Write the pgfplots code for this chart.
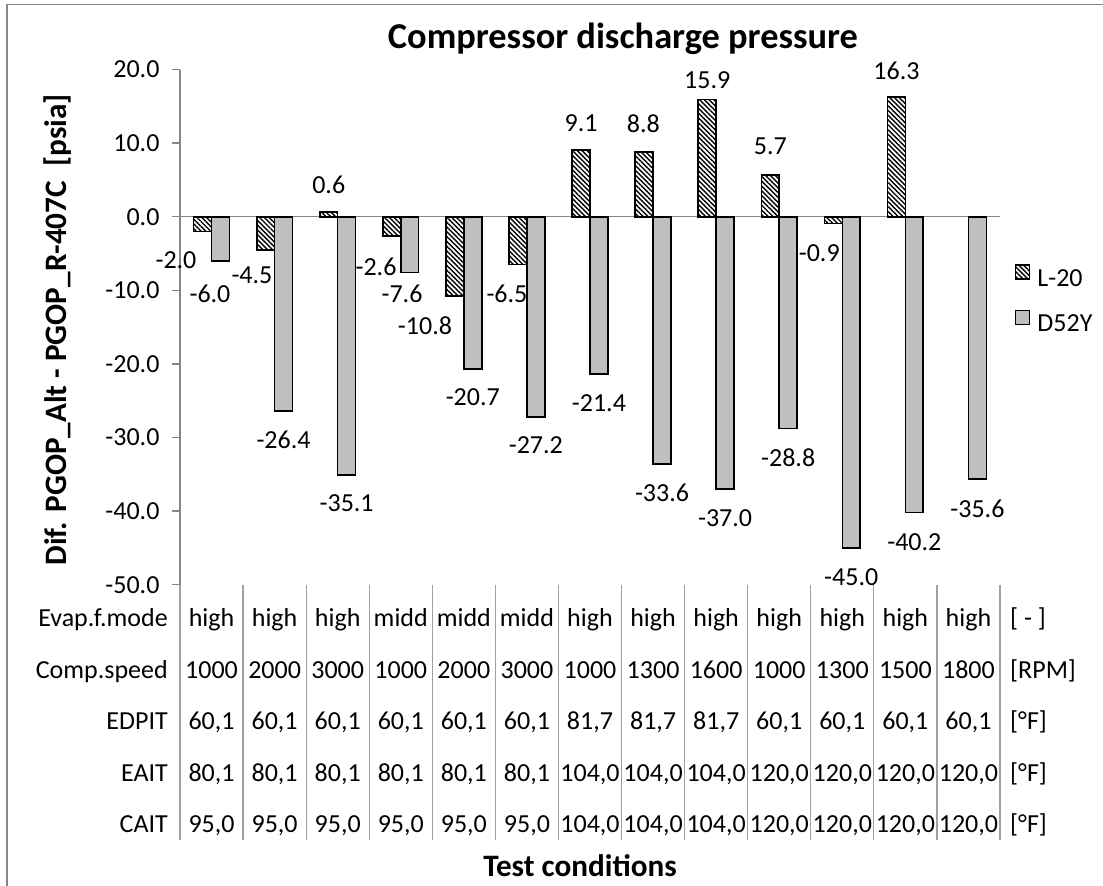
\documentclass[border=0pt]{standalone}
\usepackage{pgfplots}
\pgfplotsset{compat=1.18}
\usepackage{pgfplotstable}
\usetikzlibrary{patterns.meta}
\usepackage{fontspec}
\setmainfont{Carlito}
\definecolor{axisgray}{HTML}{868686}
\definecolor{divgray}{HTML}{A0A0A0}
\definecolor{bargray}{HTML}{BFBFBF}
\newcommand\fs{\fontsize{26}{31.2}\selectfont}
\newcommand\fsax{\fontsize{31.2}{37}\selectfont\bfseries}
\newcommand\fsti{\fontsize{36.4}{43}\selectfont\bfseries}
\pgfplotsset{sqlegend/.style={legend image code/.code={\draw[##1, line width=1.2pt] (0pt,-0.5pt) rectangle (14pt,13.5pt);}}}

% x = category, y = value, dx/dy = label offset (pt) from bar end
\pgfplotstableread{
x y dx dy
0 -2.0 -26.6 -28.6
1 -4.5 -13.7 -25.2
2 0.6 0 27.3
3 -2.6 -15.8 -31.2
4 -10.8 -29.9 -29.8
5 -6.5 -11 -29.5
6 9.1 0 26.7
7 8.8 -0.8 28.6
8 15.9 0 19.7
9 5.7 0 28
10 -0.9 -14.1 -29.4
11 16.3 0 26.2
}\lTwenty

\pgfplotstableread{
x y dx dy
0 -6.0 -10.5 -33
1 -26.4 0 -29
2 -35.1 0 -28.3
3 -7.6 -7.7 -21.4
4 -20.7 0 -28.2
5 -27.2 0 -28.1
6 -21.4 0 -28.5
7 -33.6 0 -29.3
8 -37.0 0 -29.3
9 -28.8 0 -28.6
10 -45.0 0 -28.8
11 -40.2 0 -29.1
12 -35.6 0 -29.6
}\dFiftyTwo

\begin{document}
\begin{tikzpicture}[x=1pt,y=1pt]
\path[use as bounding box] (0,0) rectangle (1103,-886);
\draw[axisgray, line width=1.3pt] (7,-886) -- (7,-4.5) -- (1103,-4.5);
\begin{axis}[
  at={(180pt,-584.7pt)}, anchor=south west,
  scale only axis, width=820pt, height=515.2pt,
  xmin=-0.5, xmax=12.5, ymin=-50, ymax=20,
  clip=false,
  axis x line=middle, axis y line=left,
  axis line style={-, draw=axisgray, line width=1.3pt},
  every inner x axis line/.append style={-},
  every outer y axis line/.append style={-},
  xtick=\empty,
  ytick={-50,-40,...,20},
  tick align=outside, major tick length=8pt,
  ytick style={draw=axisgray, line width=1.3pt},
  yticklabel style={font=\fs, anchor=east, xshift=-9pt,
    /pgf/number format/.cd, fixed, fixed zerofill, precision=1, assume math mode=true},
  ybar=0pt, bar width=17.9pt,
  title={Compressor discharge pressure},
  title style={font=\fsti, at={(axis description cs:0.5402,1.0282)}, anchor=base},
  xlabel={Test conditions},
  xlabel style={font=\fsax, at={(axis description cs:0.4878,-0.5673)}, anchor=base},
  ylabel={Dif. PGOP\_Alt - PGOP\_R-407C\ \ [psia]},
  ylabel style={font=\fsax, at={(axis description cs:-0.139,0.4944)}, anchor=base},
  legend style={at={(axis description cs:1.0183,0.622)}, anchor=north west,
    draw=none, fill=none, inner sep=0pt, font=\fs, row sep=22pt,
    nodes={inner sep=0pt},
    /tikz/every odd column/.append style={column sep=7pt}},
  legend cell align=left,
]
\addplot[draw=black, line width=1.6pt,
  pattern={Lines[angle=-45,distance=3.4pt,line width=1.4pt]}, pattern color=black,
  sqlegend,
  visualization depends on={\thisrow{dx}\as\dx},
  visualization depends on={\thisrow{dy}\as\dy},
  nodes near coords={\pgfmathprintnumber[fixed,fixed zerofill,precision=1,assume math mode=true]{\pgfplotspointmeta}},
  nodes near coords style={font=\fs, text=black, anchor=center, xshift=\dx, yshift=\dy},
  point meta=explicit]
  table[x=x, y=y, meta=y] {\lTwenty};
\addlegendentry{L-20}
\addplot[draw=black, line width=1.6pt, fill=bargray,
  sqlegend,
  visualization depends on={\thisrow{dx}\as\dx},
  visualization depends on={\thisrow{dy}\as\dy},
  nodes near coords={\pgfmathprintnumber[fixed,fixed zerofill,precision=1,assume math mode=true]{\pgfplotspointmeta}},
  nodes near coords style={font=\fs, text=black, anchor=center, xshift=\dx, yshift=\dy},
  point meta=explicit]
  table[x=x, y=y, meta=y] {\dFiftyTwo};
\addlegendentry{D52Y}
\end{axis}
% data table below the plot
\foreach \k in {0,...,13}
  \draw[divgray, line width=1.2pt] ({180+63.0769*\k},-584.7) -- ({180+63.0769*\k},-840);
\foreach \lab/\unit/\yb in {Evap.f.mode/{[ - ]}/626.5, Comp.speed/{[RPM]}/678, EDPIT/{[°F]}/729.5, EAIT/{[°F]}/781, CAIT/{[°F]}/832.5}{
  \node[font=\fs, anchor=base east, inner sep=0pt] at (168,-\yb) {\lab};
  \node[font=\fs, anchor=base west, inner sep=0pt] at (1010,-\yb) {\unit};
}
\foreach \v [count=\i from 0] in {high,high,high,midd,midd,midd,high,high,high,high,high,high,high}
  \node[font=\fs, anchor=base, inner sep=0pt] at ({211.538+63.0769*\i},-626.5) {\v};
\foreach \v [count=\i from 0] in {1000,2000,3000,1000,2000,3000,1000,1300,1600,1000,1300,1500,1800}
  \node[font=\fs, anchor=base, inner sep=0pt] at ({211.538+63.0769*\i},-678) {\v};
\foreach \v [count=\i from 0] in {{60,1},{60,1},{60,1},{60,1},{60,1},{60,1},{81,7},{81,7},{81,7},{60,1},{60,1},{60,1},{60,1}}
  \node[font=\fs, anchor=base, inner sep=0pt] at ({211.538+63.0769*\i},-729.5) {\v};
\foreach \v [count=\i from 0] in {{80,1},{80,1},{80,1},{80,1},{80,1},{80,1},{104,0},{104,0},{104,0},{120,0},{120,0},{120,0},{120,0}}
  \node[font=\fs, anchor=base, inner sep=0pt] at ({211.538+63.0769*\i},-781) {\v};
\foreach \v [count=\i from 0] in {{95,0},{95,0},{95,0},{95,0},{95,0},{95,0},{104,0},{104,0},{104,0},{120,0},{120,0},{120,0},{120,0}}
  \node[font=\fs, anchor=base, inner sep=0pt] at ({211.538+63.0769*\i},-832.5) {\v};
\end{tikzpicture}
\end{document}
